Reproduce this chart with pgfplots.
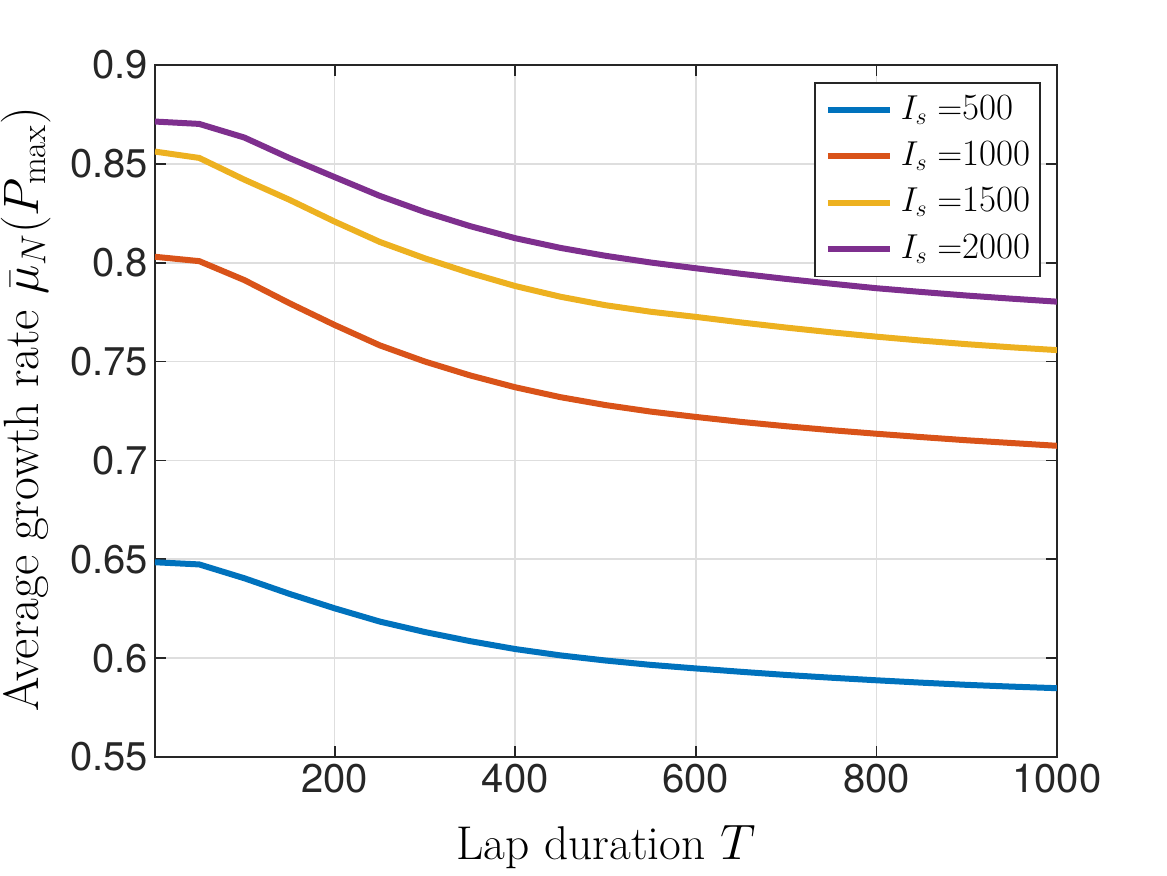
\documentclass[border=0pt]{standalone}
\usepackage{pgfplots}
\pgfplotsset{compat=1.18}
\usepackage{fontspec}
\newfontfamily\helv{TeX Gyre Heros}
\definecolor{mblue}{rgb}{0,0.447,0.741}
\definecolor{mred}{rgb}{0.85,0.325,0.098}
\definecolor{myellow}{rgb}{0.929,0.694,0.125}
\definecolor{mpurple}{rgb}{0.494,0.184,0.556}
\definecolor{axgray}{rgb}{0.15,0.15,0.15}
\pgfplotsset{mylegend/.style={legend image code/.code={\draw[##1] (0pt,0pt) -- (31pt,0pt);}}}
\begin{document}
\begin{tikzpicture}
\useasboundingbox (-77.5pt,-59pt) rectangle (506pt,378.5pt);
\begin{axis}[
  scale only axis,
  width=451pt, height=346pt,
  xmin=1, xmax=1000, ymin=0.55, ymax=0.9,
  xtick={200,400,600,800,1000},
  ytick={0.55,0.6,0.65,0.7,0.75,0.8,0.85,0.9},
  /pgf/number format/assume math mode=true,
  /pgf/number format/fixed,
  /pgf/number format/precision=2,
  /pgf/number format/1000 sep={},
  tick label style={font=\helv\fontsize{20}{24}\selectfont, text=axgray},
  axis line style={axgray, line width=0.9pt},
  tick style={axgray, line width=0.9pt},
  major tick length=5.5pt,
  tick align=inside,
  grid=major,
  grid style={line width=0.8pt, color=black!13},
  xlabel={Lap duration $T$},
  ylabel={Average growth rate $\bar{\mu}_N(P_{\max})$},
  xlabel style={font=\fontsize{23.7}{28}\selectfont, at={(axis description cs:0.5,-0.1488)}, anchor=base},
  ylabel style={font=\fontsize{24.8}{29}\selectfont, at={(axis description cs:-0.1297,0.503)}, anchor=base},
  legend style={at={(1,1)}, anchor=north east, xshift=-8pt, yshift=-8.5pt,
    draw=axgray, line width=0.8pt, fill=white,
    font=\fontsize{18.5}{23}\selectfont,
    inner xsep=5pt, inner ysep=2pt, row sep=0pt, column sep=4pt,
    nodes={text height=14pt, text depth=5pt, inner ysep=2.1pt, inner xsep=0pt}},
  legend cell align=left,
  every axis plot post/.append style={line width=3pt},
]
\addplot[mblue, mylegend] coordinates {
(1,0.6485) (50,0.6474) (100,0.6404) (150,0.6325) (200,0.6252) (250,0.6185)
(300,0.6132) (350,0.6086) (400,0.6046) (450,0.6014) (500,0.5988) (550,0.5966)
(600,0.5948) (650,0.5931) (700,0.5915) (750,0.5901) (800,0.5888) (850,0.5876)
(900,0.5865) (950,0.5856) (1000,0.5848)};
\addlegendentry{$I_s=$500}
\addplot[mred, mylegend] coordinates {
(1,0.8030) (50,0.8008) (100,0.7912) (150,0.7795) (200,0.7685) (250,0.7582)
(300,0.7500) (350,0.7430) (400,0.7370) (450,0.7320) (500,0.7280) (550,0.7247)
(600,0.7220) (650,0.7195) (700,0.7173) (750,0.7153) (800,0.7135) (850,0.7118)
(900,0.7102) (950,0.7088) (1000,0.7074)};
\addlegendentry{$I_s=$1000}
\addplot[myellow, mylegend] coordinates {
(1,0.8562) (50,0.8530) (100,0.8420) (150,0.8318) (200,0.8208) (250,0.8105)
(300,0.8022) (350,0.7948) (400,0.7882) (450,0.7828) (500,0.7785) (550,0.7752)
(600,0.7726) (650,0.7698) (700,0.7672) (750,0.7648) (800,0.7626) (850,0.7606)
(900,0.7588) (950,0.7572) (1000,0.7558)};
\addlegendentry{$I_s=$1500}
\addplot[mpurple, mylegend] coordinates {
(1,0.8714) (50,0.8702) (100,0.8633) (150,0.8529) (200,0.8433) (250,0.8338)
(300,0.8256) (350,0.8185) (400,0.8124) (450,0.8075) (500,0.8035) (550,0.8001)
(600,0.7972) (650,0.7944) (700,0.7918) (750,0.7894) (800,0.7871) (850,0.7852)
(900,0.7834) (950,0.7818) (1000,0.7803)};
\addlegendentry{$I_s=$2000}
\end{axis}
\end{tikzpicture}
\end{document}
